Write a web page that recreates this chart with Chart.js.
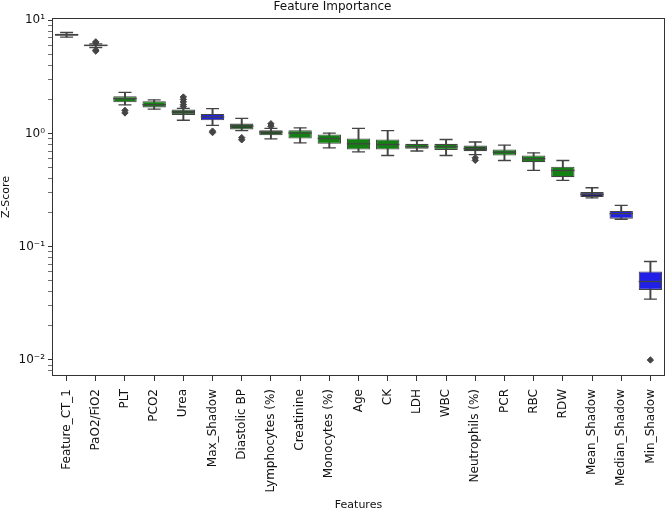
<!DOCTYPE html>
<html>
<head>
<meta charset="utf-8">
<script src="https://cdn.jsdelivr.net/npm/chart.js@4.4.1/dist/chart.umd.min.js"></script>
<style>
  body { margin: 0; background: #fff; }
  #wrap { width: 668px; height: 513px; }
</style>
</head>
<body>
<div id="wrap"><canvas id="chart" width="668" height="513"></canvas></div>
<script>
// feature names along the x axis
const features = ["Feature_CT_1", "PaO2/FiO2", "PLT", "PCO2", "Urea", "Max_Shadow", "Diastolic BP",
    "Lymphocytes (%)", "Creatinine", "Monocytes (%)", "Age", "CK", "LDH", "WBC", "Neutrophils (%)",
    "PCR", "RBC", "RDW", "Mean_Shadow", "Median_Shadow", "Min_Shadow"];

// box stats (Z-Score, log axis)
const whiskerLow  = [7.1, 5.75, 1.79, 1.64, 1.31, 1.18, 1.06, 0.898, 0.828, 0.748, 0.69, 0.64, 0.701, 0.64, 0.651, 0.578, 0.472, 0.385, 0.270, 0.175, 0.0345];
const q1          = [7.3, 5.9, 1.89, 1.70, 1.46, 1.31, 1.085, 0.966, 0.904, 0.811, 0.723, 0.723, 0.733, 0.716, 0.699, 0.64, 0.559, 0.412, 0.275, 0.177, 0.0416];
const medians     = [7.45, 6.0, 2.03, 1.80, 1.55, 1.40, 1.16, 1.03, 1.01, 0.904, 0.811, 0.80, 0.764, 0.764, 0.735, 0.684, 0.599, 0.472, 0.290, 0.196, 0.0493];
const q3          = [7.6, 6.1, 2.13, 1.93, 1.63, 1.49, 1.225, 1.07, 1.07, 0.98, 0.904, 0.886, 0.811, 0.811, 0.784, 0.723, 0.64, 0.509, 0.304, 0.207, 0.0605];
const whiskerHigh = [7.8, 6.2, 2.31, 1.98, 1.67, 1.66, 1.36, 1.11, 1.12, 1.01, 1.11, 1.063, 0.868, 0.886, 0.842, 0.789, 0.676, 0.578, 0.332, 0.232, 0.0741];

// outliers (fliers)
const outlierFeatures = ["PaO2/FiO2", "PaO2/FiO2", "PaO2/FiO2", "PaO2/FiO2", "PLT", "PLT",
    "Urea", "Urea", "Urea", "Urea", "Urea", "Max_Shadow", "Max_Shadow", "Diastolic BP", "Diastolic BP",
    "Lymphocytes (%)", "Lymphocytes (%)", "Neutrophils (%)", "Neutrophils (%)", "Min_Shadow"];
const outlierValues = [6.45, 6.3, 5.45, 5.35, 1.6, 1.52,
    2.1, 2.0, 1.9, 1.8, 1.73, 1.05, 1.02, 0.92, 0.88,
    1.22, 1.16, 0.61, 0.58, 0.01];

// box fill colours
const GREEN = "#148014", DKGREEN = "#1e521e", BLUE = "#2020e6", NAVY = "#1e1e70";
const boxColors = [GREEN, GREEN, GREEN, GREEN, DKGREEN, BLUE, DKGREEN, DKGREEN, GREEN, GREEN,
    GREEN, GREEN, GREEN, GREEN, DKGREEN, GREEN, GREEN, GREEN, NAVY, BLUE, BLUE];

// y axis ticks
const yMajorTicks = [0.01, 0.1, 1, 10];
const yMajorLabels = ["10\u207B\u00B2", "10\u207B\u00B9", "10\u2070", "10\u00B9"];
const yMin = 0.00722, yMax = 10.48;

const EDGE = "#444444";
const TEXT = "#111";

Chart.defaults.font.family = "'DejaVu Sans', sans-serif";
Chart.defaults.color = TEXT;

let yTicks = [];
yMajorTicks.forEach(m => {
    for (let k = 1; k <= 9; k++) {
        const v = m * k / 10;
        if (v >= yMin && v <= yMax) yTicks.push(v);
    }
});
yTicks.push(10);

const frame = {
    id: "frame",
    afterDraw(chart) {
        const { ctx, chartArea: a } = chart;
        ctx.save();
        ctx.strokeStyle = "#333";
        ctx.lineWidth = 1;
        ctx.strokeRect(Math.round(a.left) + 0.5, Math.round(a.top) + 0.5,
            Math.round(a.right - a.left) - 1, Math.round(a.bottom - a.top) - 1);
        ctx.restore();
    }
};

const lineStyle = (data, radius, order) => ({
    type: "line",
    data: data,
    showLine: false,
    pointStyle: "line",
    pointRadius: radius,
    pointHoverRadius: radius,
    pointBorderWidth: 1.3,
    pointBorderColor: EDGE,
    order: order
});

new Chart(document.getElementById("chart").getContext("2d"), {
    data: {
        labels: features,
        datasets: [
            {
                type: "bar",
                data: whiskerLow.map((v, i) => [v, whiskerHigh[i]]),
                backgroundColor: EDGE,
                barThickness: 1.3,
                grouped: false,
                order: 5
            },
            {
                type: "bar",
                data: q1.map((v, i) => [v, q3[i]]),
                backgroundColor: boxColors,
                borderColor: EDGE,
                borderWidth: 1.1,
                borderSkipped: false,
                barPercentage: 0.8,
                categoryPercentage: 1,
                grouped: false,
                order: 4
            },
            lineStyle(whiskerLow, 6.5, 3),
            lineStyle(whiskerHigh, 6.5, 3),
            lineStyle(medians, 11.7, 2),
            {
                type: "line",
                data: outlierFeatures.map((f, i) => ({ x: f, y: outlierValues[i] })),
                showLine: false,
                pointStyle: "rectRot",
                pointRadius: 3.2,
                pointHoverRadius: 3.2,
                pointBackgroundColor: EDGE,
                pointBorderColor: EDGE,
                pointBorderWidth: 1,
                order: 1
            }
        ]
    },
    plugins: [frame],
    options: {
        responsive: false,
        animation: false,
        events: [],
        layout: { autoPadding: false, padding: { left: 0, right: 3, top: 0, bottom: 0 } },
        plugins: {
            legend: { display: false },
            tooltip: { enabled: false },
            title: {
                display: true,
                text: "Feature Importance",
                color: TEXT,
                font: { size: 12, weight: "normal" },
                padding: { top: 0, bottom: 3.6 }
            }
        },
        scales: {
            x: {
                type: "category",
                offset: true,
                border: { display: false },
                grid: { offset: false, drawOnChartArea: false, drawTicks: true, tickLength: 5, tickColor: "#333", tickWidth: 1 },
                ticks: { minRotation: 90, maxRotation: 90, autoSkip: false, padding: 8, font: { size: 12 }, color: TEXT },
                title: { display: true, text: "Features", font: { size: 11 }, color: TEXT, padding: { top: 0, bottom: 1 } },
                afterFit: (scale) => {
                    scale.height = 137;
                    scale.paddingLeft = 0;
                    scale.paddingRight = 0;
                }
            },
            y: {
                type: "logarithmic",
                min: yMin,
                max: yMax,
                border: { display: false },
                grid: {
                    drawOnChartArea: false,
                    drawTicks: true,
                    tickLength: 4,
                    tickColor: "#333",
                    tickWidth: (ctx) => yMajorTicks.includes(ctx.tick && ctx.tick.value) ? 1 : 0.7
                },
                afterBuildTicks: (scale) => { scale.ticks = yTicks.map(v => ({ value: v })); },
                ticks: {
                    autoSkip: false,
                    padding: 3,
                    font: { size: 12 },
                    color: TEXT,
                    callback: (value) => {
                        const idx = yMajorTicks.findIndex(m => Math.abs(m - value) / m < 1e-6);
                        return idx >= 0 ? yMajorLabels[idx] : "";
                    }
                },
                title: { display: true, text: "Z-Score", font: { size: 11 }, color: TEXT, padding: { top: 0, bottom: 0 } },
                afterFit: (scale) => {
                    scale.width = 52;
                    scale.paddingTop = 0;
                    scale.paddingBottom = 0;
                }
            }
        }
    }
});
</script>
</body>
</html>
